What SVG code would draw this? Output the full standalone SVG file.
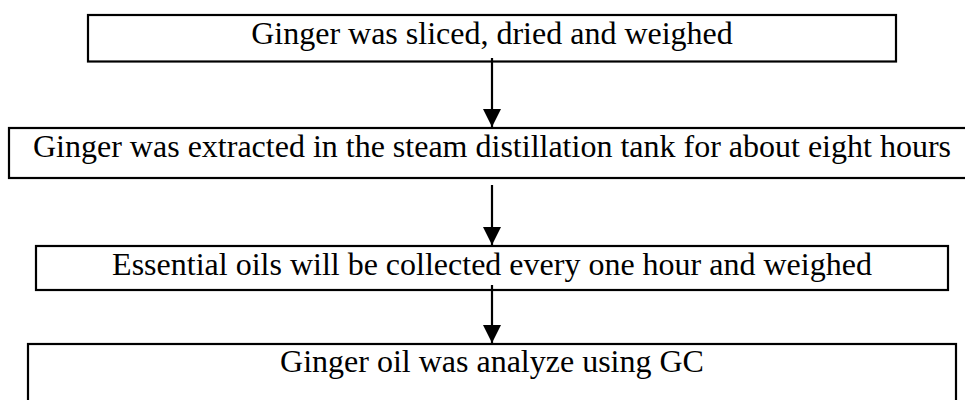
<svg xmlns="http://www.w3.org/2000/svg" width="965" height="400" viewBox="0 0 965 400">
  <style>
    .box { fill: #ffffff; stroke: #000000; stroke-width: 2.2; }
    .label { font-family: "Liberation Serif", "Times New Roman", serif; font-size: 32px; fill: #000000; text-anchor: middle; }
    .flow { stroke: #000000; stroke-width: 2.2; fill: none; marker-end: url(#head); }
  </style>
  <defs>
    <marker id="head" markerUnits="userSpaceOnUse" markerWidth="18" markerHeight="18" viewBox="0 0 16 16" refX="16" refY="8" orient="auto">
      <path d="M0,0 L16,8 L0,16 Z" fill="#000000"/>
    </marker>
  </defs>
  <rect width="965" height="400" fill="#ffffff"/>

  <g id="step-slice">
    <rect class="box" x="88" y="15" width="808" height="46.5"/>
    <text class="label" x="492" y="44">Ginger was sliced, dried and weighed</text>
  </g>

  <g id="step-extract">
    <rect class="box" x="9" y="128" width="966" height="50"/>
    <text class="label" x="492" y="157">Ginger was extracted in the steam distillation tank for about eight hours</text>
  </g>

  <g id="step-collect">
    <rect class="box" x="36" y="246" width="912" height="44"/>
    <text class="label" x="492" y="275">Essential oils will be collected every one hour and weighed</text>
  </g>

  <g id="step-analyze">
    <rect class="box" x="28" y="344" width="928" height="60"/>
    <text class="label" x="492" y="372">Ginger oil was analyze using GC</text>
  </g>

  <g id="connectors">
    <line class="flow" x1="492" y1="58" x2="492" y2="127"/>
    <line class="flow" x1="492" y1="185" x2="492" y2="245"/>
    <line class="flow" x1="492" y1="285" x2="492" y2="343"/>
  </g>
</svg>
